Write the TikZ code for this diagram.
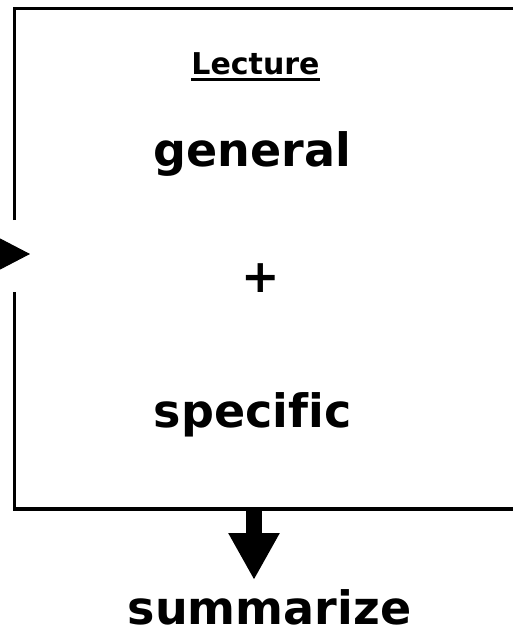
\documentclass[tikz,border=0pt]{standalone}
\usepackage{fontspec}
\setmainfont[Ligatures=NoCommon]{DejaVu Sans}
\usetikzlibrary{arrows.meta}
\tikzset{
  frame/.style={line width=3.5bp, draw=black},
  lbl/.style={font=\bfseries\fontsize{#1}{#1}\selectfont, inner sep=0pt, anchor=base},
  fatarrow/.style={line width=16bp, -{Triangle[length=47bp,width=48bp]}},
  sidearrow/.style={line width=1bp, -{Triangle[length=31bp,width=32bp]}}
}
\begin{document}
\begin{tikzpicture}[x=1bp,y=-1bp]
\useasboundingbox (0,0) rectangle (513,631);
\clip (0,0) rectangle (513,631);
% frame with a gap on the left side
\coordinate (gapTop) at (14.5,220);
\coordinate (gapBot) at (14.5,292);
\coordinate (boxBottom) at (254,509);
\draw[frame] (gapTop) -- (14.5,8.5) -- (530,8.5) -- (530,509) -- (14.5,509) -- (gapBot);
% texts
\node[lbl=30bp] (lecture) at (255.5,75) {Lecture};
\draw[line width=3bp] ([yshift=-5bp]lecture.base west) -- ([yshift=-5bp]lecture.base east);
\node[lbl=46bp] (general) at (252.5,167) {general};
\node[lbl=46bp] (plus) at (261,292) {+};
\node[lbl=46bp] (specific) at (252.5,427) {specific};
\node[lbl=46bp, text depth=0pt] (summarize) at (269.5,624) {summarize};
% arrows
\coordinate (inStart) at (-20,254);
\coordinate (inEnd) at (30,254);
\draw[sidearrow] (inStart) -- (inEnd);
\coordinate (arrowEnd) at (254,580);
\draw[fatarrow] (boxBottom) -- (arrowEnd);
\end{tikzpicture}
\end{document}
